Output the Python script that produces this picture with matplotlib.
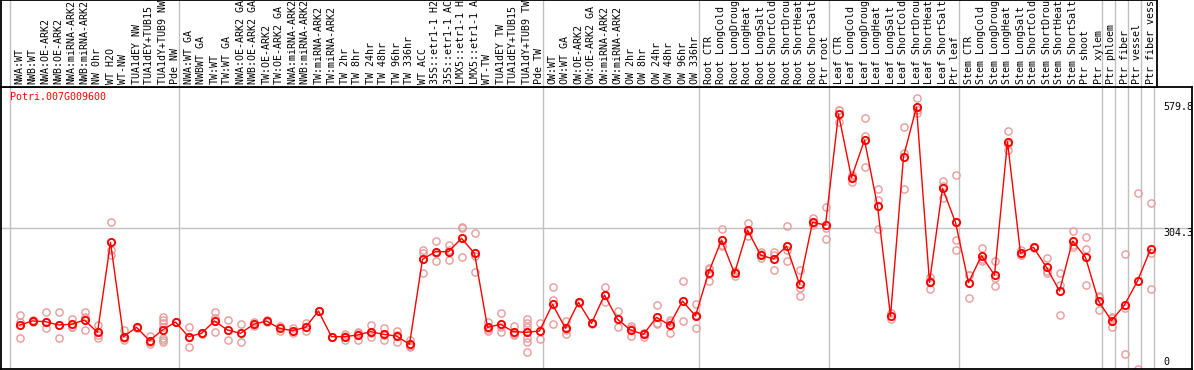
import matplotlib
matplotlib.use("Agg")
import matplotlib.pyplot as plt

W, H = 1194, 370

labels = [
    "NWA:WT", "NWB:WT", "NWA:OE-ARK2", "NWB:OE-ARK2", "NWA:miRNA-ARK2", "NWB:miRNA-ARK2",
    "NW 0hr", "WT H2O", "WT-NW", "TUA1dEY NW", "TUA1dEY+TUB15 NW", "TUA1dY+TUB9 NW", "Pde NW",
    "NWA:WT GA", "NWBWT GA", "TW:WT", "TW:WT GA", "NWA:OE-ARK2 GA", "NWB:OE-ARK2 GA",
    "TW:OE-ARK2", "TW:OE-ARK2 GA", "NWA:miRNA-ARK2 GA", "NWB:miRNA-ARK2 GA", "TW:miRNA-ARK2",
    "TW:miRNA-ARK2", "TW 2hr", "TW 8hr", "TW 24hr", "TW 48hr", "TW 96hr", "TW 336hr", "WT ACC",
    "35S::etr1-1 H2O", "35S::etr1-1 ACC", "LMX5::etr1-1 H2O", "LMX5::etr1-1 ACC", "WT-TW",
    "TUA1dEY TW", "TUA1dEY+TUB15 TW", "TUA1dY+TUB9 TW", "Pde TW",
    "OW:WT", "OW:WT GA", "OW:OE-ARK2", "OW:OE-ARK2 GA", "OW:miRNA-ARK2", "OW:miRNA-ARK2",
    "OW 2hr", "OW 8hr", "OW 24hr", "OW 48hr", "OW 96hr", "OW 336hr",
    "Root CTR", "Root LongCold", "Root LongDrought", "Root LongHeat", "Root LongSalt",
    "Root ShortCold", "Root ShortDrought", "Root ShortHeat", "Root ShortSalt", "Ptr root",
    "Leaf CTR", "Leaf LongCold", "Leaf LongDrought", "Leaf LongHeat", "Leaf LongSalt",
    "Leaf ShortCold", "Leaf ShortDrought", "Leaf ShortHeat", "Leaf ShortSalt", "Ptr leaf",
    "Stem CTR", "Stem LongCold", "Stem LongDrought", "Stem LongHeat", "Stem LongSalt",
    "Stem ShortCold", "Stem ShortDrought", "Stem ShortHeat", "Stem ShortSalt", "Ptr shoot",
    "Ptr xylem", "Ptr phloem", "Ptr fiber", "Ptr vessel", "Ptr fiber vessel",
]

means = [
    83.6, 92.7, 91.2, 83.6, 85.1, 95.0, 66.9, 271.8, 57.0, 78.3, 47.9, 72.2, 90.4,
    57.0, 64.6, 92.7, 72.2, 64.6, 85.1, 92.7, 76.0, 70.7, 78.3, 115.4, 57.0, 57.0, 60.8,
    68.4, 62.3, 58.5, 39.5, 233.1, 250.5, 250.5, 280.9, 246.8, 78.3, 85.1, 68.4, 66.9, 69.9,
    130.6, 76.0, 135.2, 87.4, 151.9, 96.5, 72.2, 62.3, 101.0, 83.6, 138.2, 104.1,
    202.7, 277.1, 201.2, 299.9, 242.9, 233.8, 263.4, 176.2, 317.3, 311.3,
    564.0, 419.0, 504.8, 354.5, 104.1, 466.9, 579.8, 180.7, 394.8, 317.3,
    180.0, 241.4, 197.4, 501.0, 246.8, 260.4, 214.9, 161.0, 274.8, 237.6, 138.2,
    93.4, 129.1, 183.8, 255.9,
]

replicates = [
    [106.3, 91.2, 53.2], [95.0, 89.6, 93.5], [112.4, 91.2, 77.5], [112.4, 83.6, 53.2],
    [97.2, 79.8, 78.3], [112.4, 102.5, 72.2], [83.6, 60.8, 53.2], [317.3, 254.3, 242.9],
    [72.2, 53.2, 49.4], [80.0, 77.0], [58.5, 44.1, 41.0],
    [102.5, 95.0, 87.4, 78.3, 53.2, 49.4, 45.6], [91.0, 89.8],
    [79.8, 34.2, 57.0], [65.5, 63.5], [112.4, 98.8, 66.9], [95.0, 49.4], [85.1, 44.1],
    [89.6, 81.0], [95.0, 90.5], [82.0, 70.7], [64.6, 76.8], [87.4, 70.7], [115.4, 115.4],
    [57.0, 57.0], [62.3, 49.4, 59.3], [68.4, 49.4, 64.6], [83.6, 64.6, 57.0],
    [76.0, 49.4, 61.5], [70.7, 44.1, 60.7], [49.4, 34.2, 35.0], [254.3, 246.8, 201.2],
    [274.8, 230.0, 246.7], [265.7, 231.6, 254.2], [307.5, 303.7, 237.6],
    [292.3, 241.4, 203.5], [89.6, 70.7, 74.6], [110.1, 66.9, 78.3], [81.3, 60.8, 63.1],
    [97.2, 87.4, 79.8, 53.2, 45.6, 22.8], [88.9, 50.9],
    [169.3, 140.5, 85.1], [92.7, 62.3, 73.0], [137.0, 133.4], [89.0, 85.8],
    [169.3, 135.2, 151.2], [115.4, 78.3], [81.3, 58.5, 76.8], [64.6, 57.0, 65.3],
    [129.1, 85.1, 88.8], [95.0, 66.1, 89.7], [183.8, 92.7], [130.6, 76.0, 105.7],
    [211.1, 183.8, 213.2], [301.4, 263.4, 266.5], [195.9, 206.5], [315.1, 287.0, 297.6],
    [249.0, 235.4, 244.3], [250.5, 208.8, 242.1], [309.0, 254.3, 229.3],
    [208.8, 167.1, 150.3], [326.4, 315.1, 310.4], [353.0, 303.7, 279.4],
    [573.1, 546.6, 572.3], [422.8, 408.4, 425.8], [554.2, 514.7, 444.1],
    [393.2, 368.2, 302.2], [96.5, 111.7], [535.2, 476.0, 393.2], [599.7, 573.1, 565.5],
    [193.6, 164.8, 183.7], [412.2, 372.0, 400.2], [425.1, 277.1, 254.3],
    [197.4, 144.3, 198.3], [259.6, 230.0, 234.6], [229.3, 172.4, 190.5],
    [525.3, 482.0, 495.7], [254.3, 242.9, 243.2], [262.0, 258.8], [235.4, 202.7, 206.6],
    [201.2, 174.6, 106.3], [297.6, 260.4, 266.4], [283.2, 256.6, 174.6],
    [149.6, 117.7, 147.3],
    [102.5, 78.3, 99.4], [245.2, 121.5, 16.8], [383.4, -17.0], [360.6, 246.8, 164.8],
]

group_bounds = [0, 13, 41, 53, 63, 73, 84, 85, 86, 87, 88]
ytick_values = [579.8, 304.3, 0]
ytick_labels = ["579.8", "304.3", "0"]
gene_name = "Potri.007G009600"

MONO = "DejaVu Sans Mono"
FS = 7.2
GREY = "#c0c0c0"
REP = "#e89a9a"

fig = plt.figure(figsize=(W / 100, H / 100), dpi=100)

def fx(px):
    return px / W

def fy(py):
    return 1 - py / H

# x mapping: index i -> pixel 19.5 + 13 i
x0, dx = 19.5, 13.0
def xl(px):
    return (px - x0) / dx

# main plot axes
ax = fig.add_axes([fx(1), fy(369), (1192 - 1) / W, (369 - 87) / H])
ax.set_xlim(xl(1), xl(1192))
ax.set_ylim(-16.6, 625.5)
ax.set_xticks([])
ax.set_yticks([])
for s in ax.spines.values():
    s.set_color("black")
    s.set_linewidth(1.3)

sep_x = [b - (x0 - 10) / dx for b in group_bounds]
for sx in sep_x:
    ax.axvline(sx, color=GREY, lw=1.0, zorder=0)
ax.axhline(ytick_values[1], color=GREY, lw=1.0, zorder=0)

xs = list(range(len(means)))
rx, ry = [], []
for i, reps in enumerate(replicates):
    for v in reps:
        rx.append(i)
        ry.append(v)
ax.plot(rx, ry, linestyle="none", marker="o", ms=5.2, mfc="none", mec=REP, mew=1.0, zorder=2)
ax.plot(xs, means, color="red", lw=1.0, marker="o", ms=5.2, mfc="none", mec="red",
        mew=1.4, zorder=3)

ytr = ax.get_yaxis_transform()
xt = (1163 - 1) / (1192 - 1)
ax.text(xt, ytick_values[0], ytick_labels[0], transform=ytr, ha="left", va="center",
        family=MONO, fontsize=FS)
ax.text(xt, ytick_values[1], ytick_labels[1], transform=ytr, ha="left", va="top",
        family=MONO, fontsize=FS)
ax.text(xt, ytick_values[2], ytick_labels[2], transform=ytr, ha="left", va="center",
        family=MONO, fontsize=FS)

fig.text(fx(10), fy(92), gene_name, color="red", family=MONO, fontsize=FS,
         ha="left", va="top")

# label area
lab = fig.add_axes([fx(1), fy(87), (1157 - 1) / W, 87 / H])
lab.set_xlim(xl(1), xl(1157))
lab.set_ylim(0, 87)
lab.set_xticks([])
lab.set_yticks([])
for s in lab.spines.values():
    s.set_color("black")
    s.set_linewidth(1.3)
for sx in sep_x[:-1]:
    lab.axvline(sx, color=GREY, lw=1.0, zorder=0)
for i, t in enumerate(labels):
    lab.text(i, 3.5, t, rotation=90, ha="center", va="bottom", family=MONO,
             fontsize=FS, clip_on=True)

fig.savefig("out.png", dpi=100)
